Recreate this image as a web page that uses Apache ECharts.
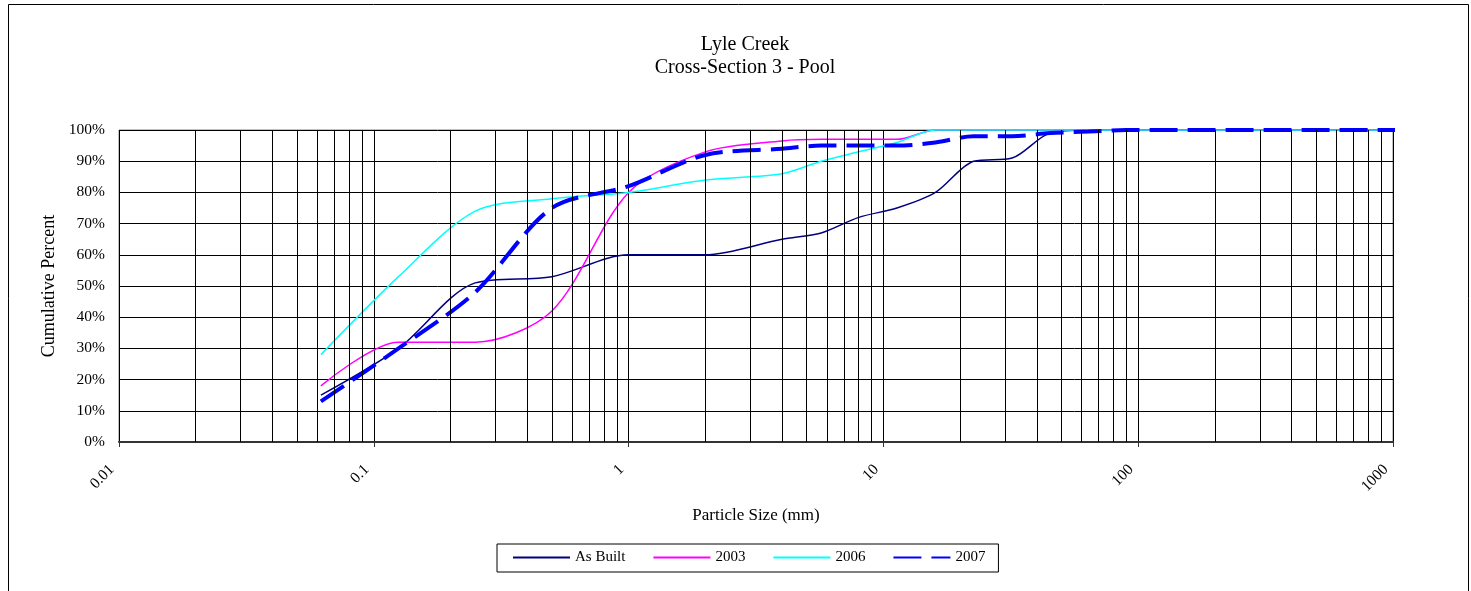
<!DOCTYPE html>
<html>
<head>
<meta charset="utf-8">
<script src="https://cdn.jsdelivr.net/npm/echarts@6/dist/echarts.min.js"></script>
<style>html,body{margin:0;padding:0;background:#fff}#c{width:1471px;height:591px}</style>
</head>
<body>
<div id="c"></div>
<script>
// Particle sizes (mm)
const sizes = [0.062, 0.125, 0.25, 0.5, 1, 2, 4, 5.7, 8, 11.3, 16, 22.6, 32, 45, 64, 90, 128, 180, 256, 362, 512, 1024];
// Cumulative percent finer than
const asBuilt = [15, 30, 51, 53, 60, 60, 65, 67, 72, 75, 80, 90, 91, 99, 100, 100, 100, 100, 100, 100, 100, 100];
const y2003   = [18, 32, 32, 42, 80, 93, 96.5, 97, 97, 97, 100, 100, 100, 100, 100, 100, 100, 100, 100, 100, 100, 100];
const y2006   = [28, 53, 74, 78, 80, 84, 86, 90, 93, 96, 100, 100, 100, 100, 100, 100, 100, 100, 100, 100, 100, 100];
const y2007   = [13, 30, 48, 75, 82, 92, 94, 95, 95, 95, 96, 98, 98, 99, 99.5, 100, 100, 100, 100, 100, 100, 100];
const seriesNames = ['As Built', '2003', '2006', '2007'];
const xTickLabels = {'0.01': '0.01', '0.1': '0.1', '1': '1', '10': '10', '100': '100', '1000': '1000'};

// minor log grid values (2..9 in each decade)
const minorGrid = [];
for (let e = -2; e <= 2; e++) for (let m = 2; m <= 9; m++) minorGrid.push(+(m * Math.pow(10, e)).toPrecision(3));

const FONT = 'Liberation Serif';
const pairs = ys => sizes.map((s, i) => [s, ys[i]]);

const chart = echarts.init(document.getElementById('c'), null, {renderer: 'canvas'});
chart.setOption({
  animation: false,
  backgroundColor: '#fff',
  title: {
    text: 'Lyle Creek\nCross-Section 3 - Pool',
    left: 740, top: 28.5, textAlign: 'center',
    textStyle: {fontFamily: FONT, fontSize: 20, fontWeight: 'normal', color: '#000', lineHeight: 23}
  },
  graphic: [{
    type: 'rect', silent: true, z: -10,
    shape: {x: 8.5, y: 4.5, width: 1460, height: 700},
    style: {fill: 'none', stroke: '#000', lineWidth: 1}
  }],
  legend: {
    data: seriesNames,
    left: 497, top: 544,
    itemWidth: 57, itemHeight: 16, itemGap: 27,
    borderColor: '#000', borderWidth: 1,
    padding: [6, 13, 7, 15],
    itemStyle: {opacity: 0},
    textStyle: {fontFamily: FONT, fontSize: 15, color: '#000'}
  },
  grid: {left: 119, right: 78, top: 130, bottom: 149, show: true, borderColor: '#808080', borderWidth: 1},
  xAxis: {
    type: 'log', logBase: 10, min: 0.01, max: 1000,
    name: 'Particle Size (mm)', nameLocation: 'middle', nameGap: 65,
    nameTextStyle: {fontFamily: FONT, fontSize: 17, color: '#000'},
    axisLine: {show: true, onZero: false, lineStyle: {color: '#333', width: 2}},
    axisTick: {show: true, length: 5, lineStyle: {color: '#333'}},
    axisLabel: {
      rotate: 45, margin: 18, padding: [0, 10, 0, 0], fontFamily: FONT, fontSize: 15.5, color: '#000',
      formatter: v => xTickLabels[String(+(+v).toPrecision(6))] || String(+(+v).toPrecision(6))
    },
    splitLine: {show: true, lineStyle: {color: '#000', width: 1}},
    minorTick: {show: false}, minorSplitLine: {show: false}
  },
  yAxis: {
    type: 'value', min: 0, max: 100, interval: 10,
    name: 'Cumulative Percent', nameLocation: 'middle', nameGap: 57,
    nameTextStyle: {fontFamily: FONT, fontSize: 18, color: '#000'},
    axisLine: {show: false}, axisTick: {show: false},
    axisLabel: {formatter: '{value}%', margin: 14, fontFamily: FONT, fontSize: 15.5, color: '#000'},
    splitLine: {show: true, lineStyle: {color: '#000', width: 1}}
  },
  series: [
    {
      name: '_grid', type: 'line', data: [], silent: true,
      markLine: {
        silent: true, symbol: 'none', animation: false,
        label: {show: false},
        lineStyle: {color: '#000', width: 1, type: 'solid'},
        data: minorGrid.map(v => ({xAxis: v}))
      }
    },
    {name: 'As Built', type: 'line', data: pairs(asBuilt), symbol: 'none', smooth: 0.3,
     lineStyle: {color: '#000080', width: 1.5}, itemStyle: {color: '#000080'}},
    {name: '2003', type: 'line', data: pairs(y2003), symbol: 'none', smooth: 0.3,
     lineStyle: {color: '#FF00FF', width: 1.5}, itemStyle: {color: '#FF00FF'}},
    {name: '2006', type: 'line', data: pairs(y2006), symbol: 'none', smooth: 0.3,
     lineStyle: {color: '#00FFFF', width: 1.5}, itemStyle: {color: '#00FFFF'}},
    {name: '2007', type: 'line', data: pairs(y2007), symbol: 'none', smooth: 0.3,
     lineStyle: {color: '#0000FF', width: 4, type: [28, 10]}, itemStyle: {color: '#0000FF'}}
  ]
});
</script>
</body>
</html>
